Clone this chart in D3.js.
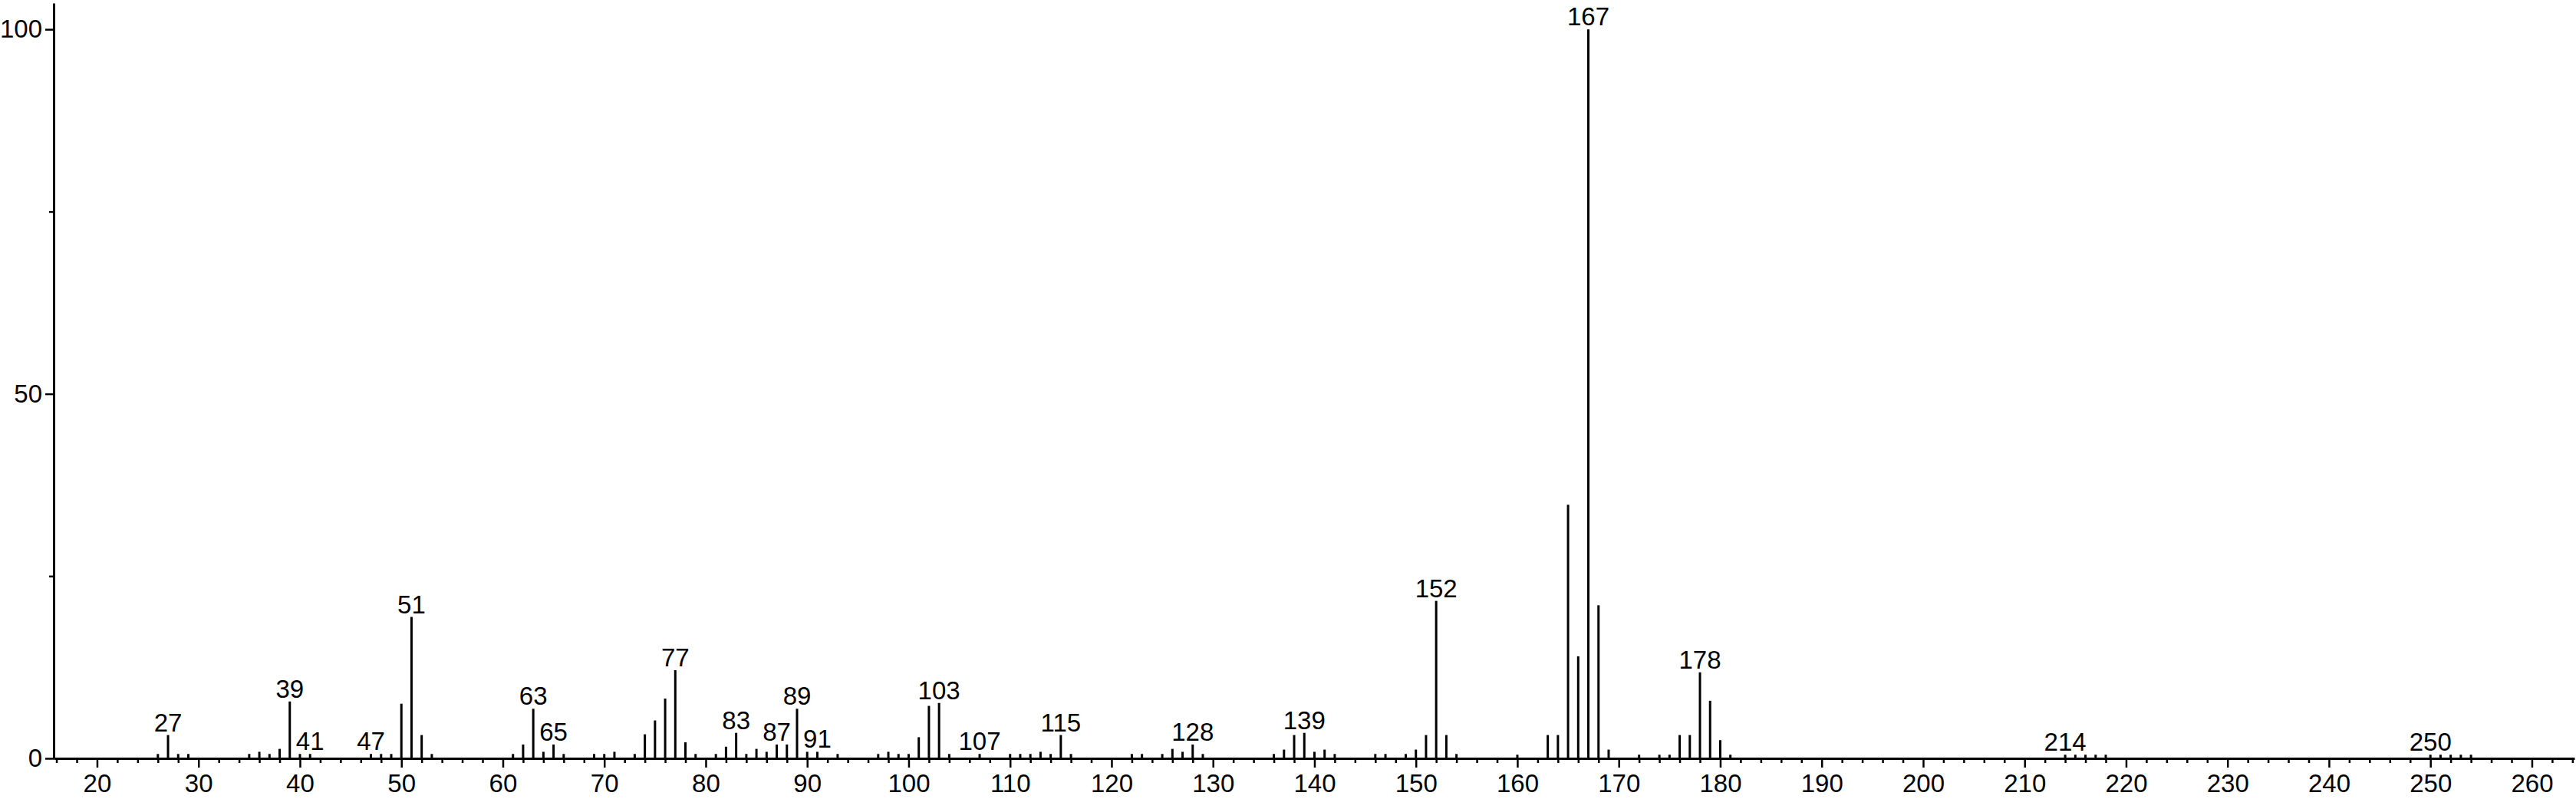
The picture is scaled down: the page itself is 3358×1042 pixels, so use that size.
<!DOCTYPE html>
<html>
<head>
<meta charset="utf-8">
<script src="https://cdn.jsdelivr.net/npm/d3@7"></script>
<style>
  html, body { margin: 0; padding: 0; background: #fff; }
  svg text { font-family: "Liberation Sans", Arial, sans-serif; fill: #000; }
</style>
</head>
<body>
<div id="chart"></div>
<script>
var width = 3358,
    height = 1042;

// m/z values and relative intensities (%)
var mz = [26, 27, 28, 29, 35, 36, 37, 38, 39, 40, 41, 47, 48, 49, 50, 51, 52, 53,
    61, 62, 63, 64, 65, 66, 69, 70, 71, 73, 74, 75, 76, 77, 78, 79, 81, 82, 83, 84,
    85, 86, 87, 88, 89, 90, 91, 93, 97, 98, 99, 100, 101, 102, 103, 104, 107, 110,
    111, 112, 113, 114, 115, 116, 122, 123, 125, 126, 127, 128, 129, 136, 137, 138,
    139, 140, 141, 142, 146, 147, 149, 150, 151, 152, 153, 154, 160, 163, 164, 165,
    166, 167, 168, 169, 172, 174, 175, 176, 177, 178, 179, 180, 181,
    214, 215, 216, 217, 218, 250, 251, 252, 253, 254];

var intensity = [0.6, 3.2, 0.6, 0.6, 0.6, 0.9, 0.6, 1.3, 7.8, 0.6, 0.6, 0.6, 0.6, 0.6, 7.5, 19.4, 3.2, 0.6,
    0.6, 1.9, 6.8, 0.9, 1.9, 0.6, 0.6, 0.6, 0.9, 0.6, 3.3, 5.2, 8.2, 12.1, 2.2, 0.6, 0.6, 1.6, 3.5, 0.6,
    1.3, 0.9, 1.9, 1.9, 6.8, 0.9, 0.9, 0.6, 0.6, 0.9, 0.6, 0.6, 2.9, 7.2, 7.6, 0.6, 0.6, 0.6,
    0.6, 0.6, 0.9, 0.6, 3.2, 0.6, 0.6, 0.6, 0.6, 1.3, 0.9, 1.9, 0.6, 0.6, 1.2, 3.2,
    3.5, 0.9, 1.2, 0.6, 0.6, 0.6, 0.6, 1.2, 3.2, 21.6, 3.2, 0.6, 0.5, 3.2, 3.2, 34.8,
    14.0, 100, 21.0, 1.2, 0.5, 0.5, 0.5, 3.2, 3.2, 11.8, 7.9, 2.5, 0.5,
    0.5, 0.5, 0.5, 0.5, 0.5, 0.5, 0.5, 0.5, 0.5, 0.5];

// peaks that carry an m/z label
var labelled = [27, 39, 41, 47, 51, 63, 65, 77, 83, 87, 89, 91, 103, 107, 115, 128, 139, 152, 167, 178, 214, 250];

var xMajor = d3.range(20, 261, 10);
var xMinor = d3.range(16, 265, 2).filter(d => d % 10 != 0);
var yMajor = [0, 50, 100];
var yMinor = [25, 75];

var peaks = mz.map((m, i) => ({ mz: m, value: intensity[i] }));

var x = d3.scaleLinear().domain([15.73, 264.2]).range([70, 3356]);
var y = d3.scaleLinear().domain([0, 103.6]).range([989, 4]);

var svg = d3.select("#chart")
    .append("svg")
    .attr("width", width)
    .attr("height", height);

// minor ticks first, then the labelled axes on top
svg.append("g")
    .attr("class", "x-minor")
    .attr("transform", "translate(0," + y(0) + ")")
    .call(d3.axisBottom(x).tickValues(xMinor).tickSize(6).tickSizeOuter(0).tickFormat(""));

svg.append("g")
    .attr("class", "y-minor")
    .attr("transform", "translate(" + x.range()[0] + ",0)")
    .call(d3.axisLeft(y).tickValues(yMinor).tickSize(6).tickSizeOuter(0).tickFormat(""));

var gx = svg.append("g")
    .attr("class", "x-axis")
    .attr("transform", "translate(0," + y(0) + ")")
    .call(d3.axisBottom(x).tickValues(xMajor).tickSize(12).tickSizeOuter(0).tickPadding(9));

var gy = svg.append("g")
    .attr("class", "y-axis")
    .attr("transform", "translate(" + x.range()[0] + ",0)")
    .call(d3.axisLeft(y).tickValues(yMajor).tickSize(11).tickSizeOuter(0).tickPadding(4));

svg.selectAll(".domain").attr("stroke", "#000").attr("stroke-width", 3);
svg.selectAll(".tick line").attr("stroke", "#000").attr("stroke-width", 2.5);
svg.selectAll(".x-minor .domain, .y-minor .domain").remove();
svg.selectAll(".tick text")
    .style("font-family", '"Liberation Sans", Arial, sans-serif')
    .attr("font-size", 33)
    .attr("fill", "#000");

// stick spectrum
svg.append("g")
    .selectAll("line")
    .data(peaks)
    .join("line")
    .attr("x1", d => x(d.mz))
    .attr("x2", d => x(d.mz))
    .attr("y1", y(0))
    .attr("y2", d => y(d.value))
    .attr("stroke", "#000")
    .attr("stroke-width", 3);

svg.append("g")
    .selectAll("text")
    .data(peaks.filter(d => labelled.includes(d.mz)))
    .join("text")
    .attr("x", d => x(d.mz))
    .attr("y", d => y(d.value) - 5)
    .attr("text-anchor", "middle")
    .attr("font-size", 33)
    .text(d => d.mz);
</script>
</body>
</html>
